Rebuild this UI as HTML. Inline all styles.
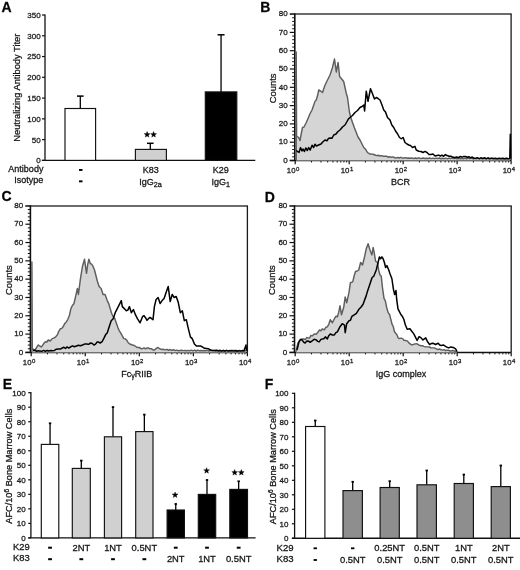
<!DOCTYPE html>
<html><head><meta charset="utf-8"><title>Figure</title>
<style>
html,body{margin:0;padding:0;background:#fff;}
body{width:520px;height:570px;overflow:hidden;}
svg{display:block;font-family:"Liberation Sans", sans-serif;filter:grayscale(1) blur(0.3px);}
text{stroke:#1a1a1a;stroke-width:0.28px;-webkit-font-smoothing:antialiased;}
</style></head>
<body>
<svg width="520" height="570" viewBox="0 0 520 570">
<rect x="0" y="0" width="520" height="570" fill="#fff"/>
<text x="1.50" y="12.30" font-size="14" text-anchor="start" font-weight="bold" fill="#000" >A</text>
<line x1="42.00" y1="160.40" x2="45.00" y2="160.40" stroke="#111" stroke-width="1.2"/>
<text x="40.60" y="163.30" font-size="8" text-anchor="end" font-weight="normal" fill="#222" >0</text>
<line x1="42.00" y1="139.63" x2="45.00" y2="139.63" stroke="#111" stroke-width="1.2"/>
<text x="40.60" y="142.53" font-size="8" text-anchor="end" font-weight="normal" fill="#222" >50</text>
<line x1="42.00" y1="118.86" x2="45.00" y2="118.86" stroke="#111" stroke-width="1.2"/>
<text x="40.60" y="121.76" font-size="8" text-anchor="end" font-weight="normal" fill="#222" >100</text>
<line x1="42.00" y1="98.09" x2="45.00" y2="98.09" stroke="#111" stroke-width="1.2"/>
<text x="40.60" y="100.99" font-size="8" text-anchor="end" font-weight="normal" fill="#222" >150</text>
<line x1="42.00" y1="77.31" x2="45.00" y2="77.31" stroke="#111" stroke-width="1.2"/>
<text x="40.60" y="80.21" font-size="8" text-anchor="end" font-weight="normal" fill="#222" >200</text>
<line x1="42.00" y1="56.54" x2="45.00" y2="56.54" stroke="#111" stroke-width="1.2"/>
<text x="40.60" y="59.44" font-size="8" text-anchor="end" font-weight="normal" fill="#222" >250</text>
<line x1="42.00" y1="35.77" x2="45.00" y2="35.77" stroke="#111" stroke-width="1.2"/>
<text x="40.60" y="38.67" font-size="8" text-anchor="end" font-weight="normal" fill="#222" >300</text>
<line x1="42.00" y1="15.00" x2="45.00" y2="15.00" stroke="#111" stroke-width="1.2"/>
<text x="40.60" y="17.90" font-size="8" text-anchor="end" font-weight="normal" fill="#222" >350</text>
<line x1="45.00" y1="14.60" x2="45.00" y2="160.40" stroke="#111" stroke-width="1.3"/>
<line x1="41.80" y1="160.40" x2="255.30" y2="160.40" stroke="#111" stroke-width="1.4"/>
<line x1="80.30" y1="96.10" x2="80.30" y2="108.50" stroke="#000" stroke-width="1.3"/>
<line x1="77.00" y1="96.10" x2="83.60" y2="96.10" stroke="#000" stroke-width="1.5"/>
<rect x="65.00" y="108.50" width="30.60" height="51.90" fill="#fff" stroke="#111" stroke-width="1.15"/>
<line x1="150.30" y1="143.30" x2="150.30" y2="149.40" stroke="#000" stroke-width="1.3"/>
<line x1="147.00" y1="143.30" x2="153.60" y2="143.30" stroke="#000" stroke-width="1.5"/>
<rect x="135.40" y="149.40" width="31.00" height="11.00" fill="#d0d0d0" stroke="#111" stroke-width="1.15"/>
<line x1="221.05" y1="34.80" x2="221.05" y2="91.90" stroke="#000" stroke-width="1.3"/>
<line x1="217.55" y1="34.80" x2="224.55" y2="34.80" stroke="#000" stroke-width="1.5"/>
<rect x="205.30" y="91.90" width="31.50" height="68.50" fill="#000" stroke="#111" stroke-width="1.15"/>
<path d="M147.10,131.50 L147.87,133.55 L150.05,133.64 L148.34,135.00 L148.92,137.11 L147.10,135.90 L145.28,137.11 L145.86,135.00 L144.15,133.64 L146.33,133.55 Z" fill="#000" stroke="#000" stroke-width="0.4" stroke-linejoin="round"/>
<path d="M153.60,131.50 L154.37,133.55 L156.55,133.64 L154.84,135.00 L155.42,137.11 L153.60,135.90 L151.78,137.11 L152.36,135.00 L150.65,133.64 L152.83,133.55 Z" fill="#000" stroke="#000" stroke-width="0.4" stroke-linejoin="round"/>
<text x="43.40" y="171.60" font-size="9" text-anchor="end" font-weight="normal" fill="#111" >Antibody</text>
<text x="43.40" y="183.40" font-size="9" text-anchor="end" font-weight="normal" fill="#111" >Isotype</text>
<rect x="79.00" y="169.00" width="3.50" height="1.90" fill="#000"/>
<rect x="79.00" y="180.40" width="3.50" height="1.90" fill="#000"/>
<text x="150.70" y="173.20" font-size="9" text-anchor="middle" font-weight="normal" fill="#111" >K83</text>
<text x="139.2" y="184.6" font-size="9" fill="#111">IgG<tspan font-size="7.2" dy="2.3">2a</tspan></text>
<text x="220.80" y="173.20" font-size="9" text-anchor="middle" font-weight="normal" fill="#111" >K29</text>
<text x="211.4" y="184.6" font-size="9" fill="#111">IgG<tspan font-size="7.2" dy="2.3">1</tspan></text>
<text transform="translate(20.0,87.7) rotate(-90)" font-size="9.3" text-anchor="middle" fill="#111">Neutralizing Antibody Titer</text>
<text x="260.30" y="12.20" font-size="14" text-anchor="start" font-weight="bold" fill="#000" >B</text>
<line x1="289.80" y1="160.50" x2="294.80" y2="160.50" stroke="#111" stroke-width="1.2"/>
<text x="287.60" y="162.70" font-size="8" text-anchor="end" font-weight="normal" fill="#222" >0</text>
<line x1="292.20" y1="156.84" x2="294.80" y2="156.84" stroke="#111" stroke-width="1.0"/>
<line x1="292.20" y1="153.18" x2="294.80" y2="153.18" stroke="#111" stroke-width="1.0"/>
<line x1="292.20" y1="149.52" x2="294.80" y2="149.52" stroke="#111" stroke-width="1.0"/>
<line x1="292.20" y1="145.86" x2="294.80" y2="145.86" stroke="#111" stroke-width="1.0"/>
<line x1="289.80" y1="142.20" x2="294.80" y2="142.20" stroke="#111" stroke-width="1.2"/>
<text x="287.60" y="144.40" font-size="8" text-anchor="end" font-weight="normal" fill="#222" >10</text>
<line x1="292.20" y1="138.54" x2="294.80" y2="138.54" stroke="#111" stroke-width="1.0"/>
<line x1="292.20" y1="134.88" x2="294.80" y2="134.88" stroke="#111" stroke-width="1.0"/>
<line x1="292.20" y1="131.22" x2="294.80" y2="131.22" stroke="#111" stroke-width="1.0"/>
<line x1="292.20" y1="127.56" x2="294.80" y2="127.56" stroke="#111" stroke-width="1.0"/>
<line x1="289.80" y1="123.90" x2="294.80" y2="123.90" stroke="#111" stroke-width="1.2"/>
<text x="287.60" y="126.10" font-size="8" text-anchor="end" font-weight="normal" fill="#222" >20</text>
<line x1="292.20" y1="120.24" x2="294.80" y2="120.24" stroke="#111" stroke-width="1.0"/>
<line x1="292.20" y1="116.58" x2="294.80" y2="116.58" stroke="#111" stroke-width="1.0"/>
<line x1="292.20" y1="112.92" x2="294.80" y2="112.92" stroke="#111" stroke-width="1.0"/>
<line x1="292.20" y1="109.26" x2="294.80" y2="109.26" stroke="#111" stroke-width="1.0"/>
<line x1="289.80" y1="105.60" x2="294.80" y2="105.60" stroke="#111" stroke-width="1.2"/>
<text x="287.60" y="107.80" font-size="8" text-anchor="end" font-weight="normal" fill="#222" >30</text>
<line x1="292.20" y1="101.94" x2="294.80" y2="101.94" stroke="#111" stroke-width="1.0"/>
<line x1="292.20" y1="98.28" x2="294.80" y2="98.28" stroke="#111" stroke-width="1.0"/>
<line x1="292.20" y1="94.62" x2="294.80" y2="94.62" stroke="#111" stroke-width="1.0"/>
<line x1="292.20" y1="90.96" x2="294.80" y2="90.96" stroke="#111" stroke-width="1.0"/>
<line x1="289.80" y1="87.30" x2="294.80" y2="87.30" stroke="#111" stroke-width="1.2"/>
<text x="287.60" y="89.50" font-size="8" text-anchor="end" font-weight="normal" fill="#222" >40</text>
<line x1="292.20" y1="83.64" x2="294.80" y2="83.64" stroke="#111" stroke-width="1.0"/>
<line x1="292.20" y1="79.98" x2="294.80" y2="79.98" stroke="#111" stroke-width="1.0"/>
<line x1="292.20" y1="76.32" x2="294.80" y2="76.32" stroke="#111" stroke-width="1.0"/>
<line x1="292.20" y1="72.66" x2="294.80" y2="72.66" stroke="#111" stroke-width="1.0"/>
<line x1="289.80" y1="69.00" x2="294.80" y2="69.00" stroke="#111" stroke-width="1.2"/>
<text x="287.60" y="71.20" font-size="8" text-anchor="end" font-weight="normal" fill="#222" >50</text>
<line x1="292.20" y1="65.34" x2="294.80" y2="65.34" stroke="#111" stroke-width="1.0"/>
<line x1="292.20" y1="61.68" x2="294.80" y2="61.68" stroke="#111" stroke-width="1.0"/>
<line x1="292.20" y1="58.02" x2="294.80" y2="58.02" stroke="#111" stroke-width="1.0"/>
<line x1="292.20" y1="54.36" x2="294.80" y2="54.36" stroke="#111" stroke-width="1.0"/>
<line x1="289.80" y1="50.70" x2="294.80" y2="50.70" stroke="#111" stroke-width="1.2"/>
<text x="287.60" y="52.90" font-size="8" text-anchor="end" font-weight="normal" fill="#222" >60</text>
<line x1="292.20" y1="47.04" x2="294.80" y2="47.04" stroke="#111" stroke-width="1.0"/>
<line x1="292.20" y1="43.38" x2="294.80" y2="43.38" stroke="#111" stroke-width="1.0"/>
<line x1="292.20" y1="39.72" x2="294.80" y2="39.72" stroke="#111" stroke-width="1.0"/>
<line x1="292.20" y1="36.06" x2="294.80" y2="36.06" stroke="#111" stroke-width="1.0"/>
<line x1="289.80" y1="32.40" x2="294.80" y2="32.40" stroke="#111" stroke-width="1.2"/>
<text x="287.60" y="34.60" font-size="8" text-anchor="end" font-weight="normal" fill="#222" >70</text>
<line x1="292.20" y1="28.74" x2="294.80" y2="28.74" stroke="#111" stroke-width="1.0"/>
<line x1="292.20" y1="25.08" x2="294.80" y2="25.08" stroke="#111" stroke-width="1.0"/>
<line x1="292.20" y1="21.42" x2="294.80" y2="21.42" stroke="#111" stroke-width="1.0"/>
<line x1="292.20" y1="17.76" x2="294.80" y2="17.76" stroke="#111" stroke-width="1.0"/>
<line x1="289.80" y1="14.10" x2="294.80" y2="14.10" stroke="#111" stroke-width="1.2"/>
<text x="287.60" y="16.30" font-size="8" text-anchor="end" font-weight="normal" fill="#222" >80</text>
<line x1="289.80" y1="14.10" x2="511.70" y2="14.10" stroke="#3a3a3a" stroke-width="1.5"/>
<line x1="511.10" y1="14.10" x2="511.10" y2="160.50" stroke="#1a1a1a" stroke-width="1.3"/>
<line x1="294.80" y1="13.60" x2="294.80" y2="160.50" stroke="#111" stroke-width="1.6"/>
<line x1="289.80" y1="160.50" x2="511.10" y2="160.50" stroke="#111" stroke-width="1.5"/>
<line x1="295.20" y1="160.50" x2="295.20" y2="164.30" stroke="#111" stroke-width="1.2"/>
<text x="295.50" y="173.40" font-size="7.8" text-anchor="end" fill="#222">10</text>
<text x="295.90" y="170.90" font-size="6" fill="#222">0</text>
<line x1="311.45" y1="160.50" x2="311.45" y2="162.50" stroke="#111" stroke-width="1.0"/>
<line x1="320.95" y1="160.50" x2="320.95" y2="162.50" stroke="#111" stroke-width="1.0"/>
<line x1="327.70" y1="160.50" x2="327.70" y2="162.50" stroke="#111" stroke-width="1.0"/>
<line x1="332.93" y1="160.50" x2="332.93" y2="162.50" stroke="#111" stroke-width="1.0"/>
<line x1="337.20" y1="160.50" x2="337.20" y2="162.50" stroke="#111" stroke-width="1.0"/>
<line x1="340.81" y1="160.50" x2="340.81" y2="162.50" stroke="#111" stroke-width="1.0"/>
<line x1="343.94" y1="160.50" x2="343.94" y2="162.50" stroke="#111" stroke-width="1.0"/>
<line x1="346.71" y1="160.50" x2="346.71" y2="162.50" stroke="#111" stroke-width="1.0"/>
<line x1="349.18" y1="160.50" x2="349.18" y2="164.30" stroke="#111" stroke-width="1.2"/>
<text x="349.48" y="173.40" font-size="7.8" text-anchor="end" fill="#222">10</text>
<text x="349.88" y="170.90" font-size="6" fill="#222">1</text>
<line x1="365.42" y1="160.50" x2="365.42" y2="162.50" stroke="#111" stroke-width="1.0"/>
<line x1="374.93" y1="160.50" x2="374.93" y2="162.50" stroke="#111" stroke-width="1.0"/>
<line x1="381.67" y1="160.50" x2="381.67" y2="162.50" stroke="#111" stroke-width="1.0"/>
<line x1="386.90" y1="160.50" x2="386.90" y2="162.50" stroke="#111" stroke-width="1.0"/>
<line x1="391.18" y1="160.50" x2="391.18" y2="162.50" stroke="#111" stroke-width="1.0"/>
<line x1="394.79" y1="160.50" x2="394.79" y2="162.50" stroke="#111" stroke-width="1.0"/>
<line x1="397.92" y1="160.50" x2="397.92" y2="162.50" stroke="#111" stroke-width="1.0"/>
<line x1="400.68" y1="160.50" x2="400.68" y2="162.50" stroke="#111" stroke-width="1.0"/>
<line x1="403.15" y1="160.50" x2="403.15" y2="164.30" stroke="#111" stroke-width="1.2"/>
<text x="403.45" y="173.40" font-size="7.8" text-anchor="end" fill="#222">10</text>
<text x="403.85" y="170.90" font-size="6" fill="#222">2</text>
<line x1="419.40" y1="160.50" x2="419.40" y2="162.50" stroke="#111" stroke-width="1.0"/>
<line x1="428.90" y1="160.50" x2="428.90" y2="162.50" stroke="#111" stroke-width="1.0"/>
<line x1="435.65" y1="160.50" x2="435.65" y2="162.50" stroke="#111" stroke-width="1.0"/>
<line x1="440.88" y1="160.50" x2="440.88" y2="162.50" stroke="#111" stroke-width="1.0"/>
<line x1="445.15" y1="160.50" x2="445.15" y2="162.50" stroke="#111" stroke-width="1.0"/>
<line x1="448.76" y1="160.50" x2="448.76" y2="162.50" stroke="#111" stroke-width="1.0"/>
<line x1="451.89" y1="160.50" x2="451.89" y2="162.50" stroke="#111" stroke-width="1.0"/>
<line x1="454.66" y1="160.50" x2="454.66" y2="162.50" stroke="#111" stroke-width="1.0"/>
<line x1="457.12" y1="160.50" x2="457.12" y2="164.30" stroke="#111" stroke-width="1.2"/>
<text x="457.43" y="173.40" font-size="7.8" text-anchor="end" fill="#222">10</text>
<text x="457.82" y="170.90" font-size="6" fill="#222">3</text>
<line x1="473.37" y1="160.50" x2="473.37" y2="162.50" stroke="#111" stroke-width="1.0"/>
<line x1="482.88" y1="160.50" x2="482.88" y2="162.50" stroke="#111" stroke-width="1.0"/>
<line x1="489.62" y1="160.50" x2="489.62" y2="162.50" stroke="#111" stroke-width="1.0"/>
<line x1="494.85" y1="160.50" x2="494.85" y2="162.50" stroke="#111" stroke-width="1.0"/>
<line x1="499.13" y1="160.50" x2="499.13" y2="162.50" stroke="#111" stroke-width="1.0"/>
<line x1="502.74" y1="160.50" x2="502.74" y2="162.50" stroke="#111" stroke-width="1.0"/>
<line x1="505.87" y1="160.50" x2="505.87" y2="162.50" stroke="#111" stroke-width="1.0"/>
<line x1="508.63" y1="160.50" x2="508.63" y2="162.50" stroke="#111" stroke-width="1.0"/>
<line x1="511.10" y1="160.50" x2="511.10" y2="164.30" stroke="#111" stroke-width="1.2"/>
<text x="511.40" y="173.40" font-size="7.8" text-anchor="end" fill="#222">10</text>
<text x="511.80" y="170.90" font-size="6" fill="#222">4</text>
<text transform="translate(275.60,88.30) rotate(-90)" font-size="9.4" text-anchor="middle" fill="#111">Counts</text>
<text x="400.60" y="184.80" font-size="9" text-anchor="middle" fill="#111">BCR</text>
<path d="M296.20,160.50 L296.20,160.00 L296.20,52.00 L296.20,52.00 L296.60,136.00 L298.60,137.50 L300.00,140.50 L301.00,135.00 L302.50,127.50 L304.00,127.00 L306.25,122.50 L308.00,118.50 L310.00,113.75 L312.00,110.00 L313.75,105.00 L315.00,101.38 L316.25,100.00 L317.50,95.83 L318.75,90.00 L320.50,91.00 L322.50,92.50 L324.50,86.50 L326.25,82.50 L328.00,79.00 L330.00,75.00 L331.50,70.50 L332.50,67.50 L334.50,59.00 L336.30,72.00 L338.10,62.50 L339.60,76.50 L340.50,77.50 L342.50,80.00 L343.75,81.73 L345.00,87.50 L346.25,93.18 L347.50,97.50 L349.50,112.50 L351.00,118.00 L352.50,122.50 L354.50,128.00 L356.25,132.50 L358.00,137.00 L360.00,140.00 L362.00,144.00 L363.75,147.50 L365.62,149.35 L367.50,152.50 L369.25,153.67 L371.00,154.00 L373.00,154.31 L375.00,155.00 L376.67,155.65 L378.33,155.25 L380.00,156.01 L381.67,155.66 L383.33,156.23 L385.00,156.25 L386.55,156.11 L388.10,157.21 L389.65,156.69 L391.20,157.31 L392.75,156.89 L394.30,157.50 L395.93,158.11 L397.57,157.31 L399.20,158.02 L400.83,157.32 L402.47,158.04 L404.10,158.00 L405.69,157.58 L407.28,158.28 L408.87,157.93 L410.46,158.27 L412.05,157.93 L413.64,158.60 L415.23,158.04 L416.82,158.56 L418.41,157.93 L420.00,158.30 L421.61,158.54 L423.21,158.01 L424.82,158.43 L426.43,158.20 L428.04,158.50 L429.64,157.98 L431.25,158.59 L432.86,158.13 L434.46,158.66 L436.07,158.09 L437.68,158.56 L439.29,157.97 L440.89,158.72 L442.50,158.19 L444.11,158.69 L445.71,158.10 L447.32,158.81 L448.93,158.03 L450.54,158.60 L452.14,157.95 L453.75,158.55 L455.36,158.17 L456.96,158.79 L458.57,158.28 L460.18,158.71 L461.79,158.33 L463.39,158.78 L465.00,158.08 L466.61,158.76 L468.21,158.05 L469.82,158.67 L471.43,158.13 L473.04,158.78 L474.64,158.18 L476.25,158.74 L477.86,158.10 L479.46,158.93 L481.07,158.24 L482.68,158.84 L484.29,158.40 L485.89,158.86 L487.50,158.20 L489.11,158.98 L490.71,158.15 L492.32,158.73 L493.93,158.32 L495.54,158.88 L497.14,158.46 L498.75,158.82 L500.36,158.42 L501.96,158.70 L503.57,158.47 L505.18,158.94 L506.79,158.46 L508.39,158.77 L510.00,158.60 L510.00,160.50 Z" fill="#d5d5d5" stroke="none" stroke-width="0" stroke-linejoin="round"/>
<path d="M296.20,160.00 L296.20,52.00 L296.20,52.00 L296.60,136.00 L298.60,137.50 L300.00,140.50 L301.00,135.00 L302.50,127.50 L304.00,127.00 L306.25,122.50 L308.00,118.50 L310.00,113.75 L312.00,110.00 L313.75,105.00 L315.00,101.38 L316.25,100.00 L317.50,95.83 L318.75,90.00 L320.50,91.00 L322.50,92.50 L324.50,86.50 L326.25,82.50 L328.00,79.00 L330.00,75.00 L331.50,70.50 L332.50,67.50 L334.50,59.00 L336.30,72.00 L338.10,62.50 L339.60,76.50 L340.50,77.50 L342.50,80.00 L343.75,81.73 L345.00,87.50 L346.25,93.18 L347.50,97.50 L349.50,112.50 L351.00,118.00 L352.50,122.50 L354.50,128.00 L356.25,132.50 L358.00,137.00 L360.00,140.00 L362.00,144.00 L363.75,147.50 L365.62,149.35 L367.50,152.50 L369.25,153.67 L371.00,154.00 L373.00,154.31 L375.00,155.00 L376.67,155.65 L378.33,155.25 L380.00,156.01 L381.67,155.66 L383.33,156.23 L385.00,156.25 L386.55,156.11 L388.10,157.21 L389.65,156.69 L391.20,157.31 L392.75,156.89 L394.30,157.50 L395.93,158.11 L397.57,157.31 L399.20,158.02 L400.83,157.32 L402.47,158.04 L404.10,158.00 L405.69,157.58 L407.28,158.28 L408.87,157.93 L410.46,158.27 L412.05,157.93 L413.64,158.60 L415.23,158.04 L416.82,158.56 L418.41,157.93 L420.00,158.30 L421.61,158.54 L423.21,158.01 L424.82,158.43 L426.43,158.20 L428.04,158.50 L429.64,157.98 L431.25,158.59 L432.86,158.13 L434.46,158.66 L436.07,158.09 L437.68,158.56 L439.29,157.97 L440.89,158.72 L442.50,158.19 L444.11,158.69 L445.71,158.10 L447.32,158.81 L448.93,158.03 L450.54,158.60 L452.14,157.95 L453.75,158.55 L455.36,158.17 L456.96,158.79 L458.57,158.28 L460.18,158.71 L461.79,158.33 L463.39,158.78 L465.00,158.08 L466.61,158.76 L468.21,158.05 L469.82,158.67 L471.43,158.13 L473.04,158.78 L474.64,158.18 L476.25,158.74 L477.86,158.10 L479.46,158.93 L481.07,158.24 L482.68,158.84 L484.29,158.40 L485.89,158.86 L487.50,158.20 L489.11,158.98 L490.71,158.15 L492.32,158.73 L493.93,158.32 L495.54,158.88 L497.14,158.46 L498.75,158.82 L500.36,158.42 L501.96,158.70 L503.57,158.47 L505.18,158.94 L506.79,158.46 L508.39,158.77 L510.00,158.60" fill="none" stroke="#5e5e5e" stroke-width="1.45" stroke-linejoin="round"/>
<path d="M296.20,150.50 L297.60,151.50 L299.10,152.40 L300.50,147.60 L302.00,151.00 L303.00,149.00 L304.40,151.50 L305.80,148.00 L307.30,150.50 L308.70,147.60 L310.20,150.00 L312.10,145.20 L313.60,147.50 L315.00,144.20 L316.40,146.00 L318.60,145.00 L321.00,144.00 L323.00,141.80 L325.00,140.00 L327.00,140.80 L328.50,138.46 L330.00,138.00 L331.88,138.26 L333.75,135.00 L336.00,134.00 L338.00,131.50 L340.00,130.00 L342.50,127.00 L345.00,125.00 L347.00,121.50 L348.50,118.82 L350.00,117.50 L352.50,115.50 L355.00,112.50 L357.50,110.50 L360.00,107.50 L362.00,106.50 L363.75,105.00 L364.60,111.00 L366.25,91.25 L368.00,101.25 L370.50,88.75 L372.50,93.75 L374.50,99.00 L376.25,97.50 L378.00,98.50 L380.00,100.00 L382.00,105.00 L383.75,110.00 L385.50,112.00 L387.50,117.50 L390.00,120.00 L391.80,125.00 L393.75,127.50 L395.50,131.00 L397.50,133.75 L399.50,137.50 L401.25,138.75 L403.10,137.50 L405.00,142.50 L407.00,144.00 L408.75,145.00 L410.50,145.50 L412.50,147.50 L414.90,146.30 L416.25,150.00 L418.75,151.25 L421.00,151.50 L423.00,152.49 L425.00,151.43 L427.00,152.50 L429.00,154.46 L431.00,154.50 L433.00,154.02 L435.00,155.99 L437.00,155.50 L438.67,155.12 L440.33,155.98 L442.00,155.06 L443.67,156.31 L445.33,154.64 L447.00,155.50 L449.00,156.27 L451.00,156.23 L453.00,157.29 L455.00,157.50 L456.75,157.06 L458.50,157.60 L460.25,156.50 L462.00,157.15 L463.75,156.51 L465.50,156.50 L467.18,157.20 L468.87,156.70 L470.55,157.81 L472.23,156.98 L473.92,158.40 L475.60,158.20 L477.40,157.85 L479.20,158.66 L481.00,157.82 L482.80,158.43 L484.60,157.76 L486.40,158.81 L488.20,157.82 L490.00,158.86 L491.80,158.09 L493.60,158.71 L495.40,158.27 L497.20,158.86 L499.00,158.33 L500.80,158.64 L502.60,158.31 L504.40,158.72 L506.20,158.29 L508.00,158.71 L509.80,158.60 L510.30,134.30 L510.60,158.60" fill="none" stroke="#000" stroke-width="1.5" stroke-linejoin="round"/>
<text x="1.60" y="200.80" font-size="14" text-anchor="start" font-weight="bold" fill="#000" >C</text>
<line x1="25.40" y1="352.40" x2="30.40" y2="352.40" stroke="#111" stroke-width="1.2"/>
<text x="23.20" y="354.60" font-size="8" text-anchor="end" font-weight="normal" fill="#222" >0</text>
<line x1="27.80" y1="348.74" x2="30.40" y2="348.74" stroke="#111" stroke-width="1.0"/>
<line x1="27.80" y1="345.07" x2="30.40" y2="345.07" stroke="#111" stroke-width="1.0"/>
<line x1="27.80" y1="341.41" x2="30.40" y2="341.41" stroke="#111" stroke-width="1.0"/>
<line x1="27.80" y1="337.75" x2="30.40" y2="337.75" stroke="#111" stroke-width="1.0"/>
<line x1="25.40" y1="334.09" x2="30.40" y2="334.09" stroke="#111" stroke-width="1.2"/>
<text x="23.20" y="336.29" font-size="8" text-anchor="end" font-weight="normal" fill="#222" >10</text>
<line x1="27.80" y1="330.42" x2="30.40" y2="330.42" stroke="#111" stroke-width="1.0"/>
<line x1="27.80" y1="326.76" x2="30.40" y2="326.76" stroke="#111" stroke-width="1.0"/>
<line x1="27.80" y1="323.10" x2="30.40" y2="323.10" stroke="#111" stroke-width="1.0"/>
<line x1="27.80" y1="319.44" x2="30.40" y2="319.44" stroke="#111" stroke-width="1.0"/>
<line x1="25.40" y1="315.77" x2="30.40" y2="315.77" stroke="#111" stroke-width="1.2"/>
<text x="23.20" y="317.97" font-size="8" text-anchor="end" font-weight="normal" fill="#222" >20</text>
<line x1="27.80" y1="312.11" x2="30.40" y2="312.11" stroke="#111" stroke-width="1.0"/>
<line x1="27.80" y1="308.45" x2="30.40" y2="308.45" stroke="#111" stroke-width="1.0"/>
<line x1="27.80" y1="304.79" x2="30.40" y2="304.79" stroke="#111" stroke-width="1.0"/>
<line x1="27.80" y1="301.12" x2="30.40" y2="301.12" stroke="#111" stroke-width="1.0"/>
<line x1="25.40" y1="297.46" x2="30.40" y2="297.46" stroke="#111" stroke-width="1.2"/>
<text x="23.20" y="299.66" font-size="8" text-anchor="end" font-weight="normal" fill="#222" >30</text>
<line x1="27.80" y1="293.80" x2="30.40" y2="293.80" stroke="#111" stroke-width="1.0"/>
<line x1="27.80" y1="290.14" x2="30.40" y2="290.14" stroke="#111" stroke-width="1.0"/>
<line x1="27.80" y1="286.48" x2="30.40" y2="286.48" stroke="#111" stroke-width="1.0"/>
<line x1="27.80" y1="282.81" x2="30.40" y2="282.81" stroke="#111" stroke-width="1.0"/>
<line x1="25.40" y1="279.15" x2="30.40" y2="279.15" stroke="#111" stroke-width="1.2"/>
<text x="23.20" y="281.35" font-size="8" text-anchor="end" font-weight="normal" fill="#222" >40</text>
<line x1="27.80" y1="275.49" x2="30.40" y2="275.49" stroke="#111" stroke-width="1.0"/>
<line x1="27.80" y1="271.82" x2="30.40" y2="271.82" stroke="#111" stroke-width="1.0"/>
<line x1="27.80" y1="268.16" x2="30.40" y2="268.16" stroke="#111" stroke-width="1.0"/>
<line x1="27.80" y1="264.50" x2="30.40" y2="264.50" stroke="#111" stroke-width="1.0"/>
<line x1="25.40" y1="260.84" x2="30.40" y2="260.84" stroke="#111" stroke-width="1.2"/>
<text x="23.20" y="263.04" font-size="8" text-anchor="end" font-weight="normal" fill="#222" >50</text>
<line x1="27.80" y1="257.18" x2="30.40" y2="257.18" stroke="#111" stroke-width="1.0"/>
<line x1="27.80" y1="253.51" x2="30.40" y2="253.51" stroke="#111" stroke-width="1.0"/>
<line x1="27.80" y1="249.85" x2="30.40" y2="249.85" stroke="#111" stroke-width="1.0"/>
<line x1="27.80" y1="246.19" x2="30.40" y2="246.19" stroke="#111" stroke-width="1.0"/>
<line x1="25.40" y1="242.53" x2="30.40" y2="242.53" stroke="#111" stroke-width="1.2"/>
<text x="23.20" y="244.72" font-size="8" text-anchor="end" font-weight="normal" fill="#222" >60</text>
<line x1="27.80" y1="238.86" x2="30.40" y2="238.86" stroke="#111" stroke-width="1.0"/>
<line x1="27.80" y1="235.20" x2="30.40" y2="235.20" stroke="#111" stroke-width="1.0"/>
<line x1="27.80" y1="231.54" x2="30.40" y2="231.54" stroke="#111" stroke-width="1.0"/>
<line x1="27.80" y1="227.88" x2="30.40" y2="227.88" stroke="#111" stroke-width="1.0"/>
<line x1="25.40" y1="224.21" x2="30.40" y2="224.21" stroke="#111" stroke-width="1.2"/>
<text x="23.20" y="226.41" font-size="8" text-anchor="end" font-weight="normal" fill="#222" >70</text>
<line x1="27.80" y1="220.55" x2="30.40" y2="220.55" stroke="#111" stroke-width="1.0"/>
<line x1="27.80" y1="216.89" x2="30.40" y2="216.89" stroke="#111" stroke-width="1.0"/>
<line x1="27.80" y1="213.22" x2="30.40" y2="213.22" stroke="#111" stroke-width="1.0"/>
<line x1="27.80" y1="209.56" x2="30.40" y2="209.56" stroke="#111" stroke-width="1.0"/>
<line x1="25.40" y1="205.90" x2="30.40" y2="205.90" stroke="#111" stroke-width="1.2"/>
<text x="23.20" y="208.10" font-size="8" text-anchor="end" font-weight="normal" fill="#222" >80</text>
<line x1="25.40" y1="205.90" x2="248.00" y2="205.90" stroke="#3a3a3a" stroke-width="1.5"/>
<line x1="247.40" y1="205.90" x2="247.40" y2="352.40" stroke="#1a1a1a" stroke-width="1.3"/>
<line x1="30.40" y1="205.40" x2="30.40" y2="352.40" stroke="#111" stroke-width="1.6"/>
<line x1="25.40" y1="352.40" x2="247.40" y2="352.40" stroke="#111" stroke-width="1.5"/>
<line x1="31.20" y1="352.40" x2="31.20" y2="356.20" stroke="#111" stroke-width="1.2"/>
<text x="31.50" y="365.30" font-size="7.8" text-anchor="end" fill="#222">10</text>
<text x="31.90" y="362.80" font-size="6" fill="#222">0</text>
<line x1="47.47" y1="352.40" x2="47.47" y2="354.40" stroke="#111" stroke-width="1.0"/>
<line x1="56.99" y1="352.40" x2="56.99" y2="354.40" stroke="#111" stroke-width="1.0"/>
<line x1="63.74" y1="352.40" x2="63.74" y2="354.40" stroke="#111" stroke-width="1.0"/>
<line x1="68.98" y1="352.40" x2="68.98" y2="354.40" stroke="#111" stroke-width="1.0"/>
<line x1="73.26" y1="352.40" x2="73.26" y2="354.40" stroke="#111" stroke-width="1.0"/>
<line x1="76.88" y1="352.40" x2="76.88" y2="354.40" stroke="#111" stroke-width="1.0"/>
<line x1="80.01" y1="352.40" x2="80.01" y2="354.40" stroke="#111" stroke-width="1.0"/>
<line x1="82.78" y1="352.40" x2="82.78" y2="354.40" stroke="#111" stroke-width="1.0"/>
<line x1="85.25" y1="352.40" x2="85.25" y2="356.20" stroke="#111" stroke-width="1.2"/>
<text x="85.55" y="365.30" font-size="7.8" text-anchor="end" fill="#222">10</text>
<text x="85.95" y="362.80" font-size="6" fill="#222">1</text>
<line x1="101.52" y1="352.40" x2="101.52" y2="354.40" stroke="#111" stroke-width="1.0"/>
<line x1="111.04" y1="352.40" x2="111.04" y2="354.40" stroke="#111" stroke-width="1.0"/>
<line x1="117.79" y1="352.40" x2="117.79" y2="354.40" stroke="#111" stroke-width="1.0"/>
<line x1="123.03" y1="352.40" x2="123.03" y2="354.40" stroke="#111" stroke-width="1.0"/>
<line x1="127.31" y1="352.40" x2="127.31" y2="354.40" stroke="#111" stroke-width="1.0"/>
<line x1="130.93" y1="352.40" x2="130.93" y2="354.40" stroke="#111" stroke-width="1.0"/>
<line x1="134.06" y1="352.40" x2="134.06" y2="354.40" stroke="#111" stroke-width="1.0"/>
<line x1="136.83" y1="352.40" x2="136.83" y2="354.40" stroke="#111" stroke-width="1.0"/>
<line x1="139.30" y1="352.40" x2="139.30" y2="356.20" stroke="#111" stroke-width="1.2"/>
<text x="139.60" y="365.30" font-size="7.8" text-anchor="end" fill="#222">10</text>
<text x="140.00" y="362.80" font-size="6" fill="#222">2</text>
<line x1="155.57" y1="352.40" x2="155.57" y2="354.40" stroke="#111" stroke-width="1.0"/>
<line x1="165.09" y1="352.40" x2="165.09" y2="354.40" stroke="#111" stroke-width="1.0"/>
<line x1="171.84" y1="352.40" x2="171.84" y2="354.40" stroke="#111" stroke-width="1.0"/>
<line x1="177.08" y1="352.40" x2="177.08" y2="354.40" stroke="#111" stroke-width="1.0"/>
<line x1="181.36" y1="352.40" x2="181.36" y2="354.40" stroke="#111" stroke-width="1.0"/>
<line x1="184.98" y1="352.40" x2="184.98" y2="354.40" stroke="#111" stroke-width="1.0"/>
<line x1="188.11" y1="352.40" x2="188.11" y2="354.40" stroke="#111" stroke-width="1.0"/>
<line x1="190.88" y1="352.40" x2="190.88" y2="354.40" stroke="#111" stroke-width="1.0"/>
<line x1="193.35" y1="352.40" x2="193.35" y2="356.20" stroke="#111" stroke-width="1.2"/>
<text x="193.65" y="365.30" font-size="7.8" text-anchor="end" fill="#222">10</text>
<text x="194.05" y="362.80" font-size="6" fill="#222">3</text>
<line x1="209.62" y1="352.40" x2="209.62" y2="354.40" stroke="#111" stroke-width="1.0"/>
<line x1="219.14" y1="352.40" x2="219.14" y2="354.40" stroke="#111" stroke-width="1.0"/>
<line x1="225.89" y1="352.40" x2="225.89" y2="354.40" stroke="#111" stroke-width="1.0"/>
<line x1="231.13" y1="352.40" x2="231.13" y2="354.40" stroke="#111" stroke-width="1.0"/>
<line x1="235.41" y1="352.40" x2="235.41" y2="354.40" stroke="#111" stroke-width="1.0"/>
<line x1="239.03" y1="352.40" x2="239.03" y2="354.40" stroke="#111" stroke-width="1.0"/>
<line x1="242.16" y1="352.40" x2="242.16" y2="354.40" stroke="#111" stroke-width="1.0"/>
<line x1="244.93" y1="352.40" x2="244.93" y2="354.40" stroke="#111" stroke-width="1.0"/>
<line x1="247.40" y1="352.40" x2="247.40" y2="356.20" stroke="#111" stroke-width="1.2"/>
<text x="247.70" y="365.30" font-size="7.8" text-anchor="end" fill="#222">10</text>
<text x="248.10" y="362.80" font-size="6" fill="#222">4</text>
<text transform="translate(11.60,280.15) rotate(-90)" font-size="9.4" text-anchor="middle" fill="#111">Counts</text>
<text x="136.80" y="376.70" font-size="9" text-anchor="middle" fill="#111">Fc<tspan font-size="7" dy="1">γ</tspan><tspan dy="-1">RIIB</tspan></text>
<path d="M31.90,352.40 L31.90,352.00 L31.90,262.00 L31.90,262.00 L32.30,349.00 L33.65,349.39 L35.00,350.00 L36.55,347.73 L38.10,345.00 L39.60,345.77 L41.10,347.00 L42.60,345.43 L44.10,343.00 L45.47,341.77 L46.83,341.97 L48.20,340.00 L50.20,341.00 L52.20,338.65 L54.20,337.90 L55.75,336.81 L57.30,334.90 L58.80,331.27 L60.30,328.80 L61.80,328.41 L63.30,326.50 L64.80,323.42 L66.30,322.00 L67.85,319.30 L69.40,315.50 L70.90,308.68 L72.40,305.50 L73.90,303.77 L75.40,297.50 L77.40,288.40 L78.40,294.50 L80.50,278.40 L82.50,266.20 L84.50,259.20 L86.50,273.30 L87.70,264.55 L88.90,259.20 L90.25,263.49 L91.60,264.20 L93.10,266.46 L94.60,270.30 L96.10,276.30 L97.60,282.11 L99.10,286.40 L101.10,288.40 L103.10,294.50 L105.10,294.50 L107.20,300.60 L108.70,303.55 L110.20,308.60 L111.70,313.48 L113.20,316.70 L114.70,318.17 L116.20,322.80 L117.75,327.33 L119.30,330.80 L120.80,333.04 L122.30,335.90 L123.80,338.59 L125.30,338.90 L126.85,340.28 L128.40,343.00 L130.40,344.29 L132.40,345.00 L134.40,345.49 L136.40,347.00 L137.93,347.56 L139.45,347.37 L140.97,348.84 L142.50,348.60 L144.00,347.88 L145.50,348.79 L147.00,347.88 L148.50,348.00 L150.03,348.81 L151.55,348.80 L153.07,349.95 L154.60,350.00 L156.30,348.37 L158.00,347.50 L160.00,349.02 L162.00,349.50 L163.64,349.34 L165.27,349.88 L166.91,349.33 L168.55,350.37 L170.18,349.51 L171.82,350.46 L173.45,349.72 L175.09,350.60 L176.73,350.14 L178.36,350.69 L180.00,350.50 L181.61,350.29 L183.22,350.61 L184.83,350.42 L186.44,350.71 L188.05,350.36 L189.66,350.87 L191.27,350.13 L192.88,350.80 L194.49,350.15 L196.10,351.00 L197.71,350.16 L199.32,350.80 L200.93,350.43 L202.54,350.77 L204.15,350.46 L205.76,350.77 L207.37,350.33 L208.98,351.02 L210.59,350.27 L212.20,350.89 L213.80,350.35 L215.41,351.02 L217.02,350.56 L218.63,350.98 L220.24,350.29 L221.85,351.04 L223.46,350.36 L225.07,350.95 L226.68,350.57 L228.29,351.06 L229.90,350.53 L231.51,351.08 L233.12,350.34 L234.73,350.96 L236.34,350.54 L237.95,351.16 L239.56,350.45 L241.17,350.91 L242.78,350.66 L244.39,350.92 L246.00,350.80 L246.00,352.40 Z" fill="#d5d5d5" stroke="none" stroke-width="0" stroke-linejoin="round"/>
<path d="M31.90,352.00 L31.90,262.00 L31.90,262.00 L32.30,349.00 L33.65,349.39 L35.00,350.00 L36.55,347.73 L38.10,345.00 L39.60,345.77 L41.10,347.00 L42.60,345.43 L44.10,343.00 L45.47,341.77 L46.83,341.97 L48.20,340.00 L50.20,341.00 L52.20,338.65 L54.20,337.90 L55.75,336.81 L57.30,334.90 L58.80,331.27 L60.30,328.80 L61.80,328.41 L63.30,326.50 L64.80,323.42 L66.30,322.00 L67.85,319.30 L69.40,315.50 L70.90,308.68 L72.40,305.50 L73.90,303.77 L75.40,297.50 L77.40,288.40 L78.40,294.50 L80.50,278.40 L82.50,266.20 L84.50,259.20 L86.50,273.30 L87.70,264.55 L88.90,259.20 L90.25,263.49 L91.60,264.20 L93.10,266.46 L94.60,270.30 L96.10,276.30 L97.60,282.11 L99.10,286.40 L101.10,288.40 L103.10,294.50 L105.10,294.50 L107.20,300.60 L108.70,303.55 L110.20,308.60 L111.70,313.48 L113.20,316.70 L114.70,318.17 L116.20,322.80 L117.75,327.33 L119.30,330.80 L120.80,333.04 L122.30,335.90 L123.80,338.59 L125.30,338.90 L126.85,340.28 L128.40,343.00 L130.40,344.29 L132.40,345.00 L134.40,345.49 L136.40,347.00 L137.93,347.56 L139.45,347.37 L140.97,348.84 L142.50,348.60 L144.00,347.88 L145.50,348.79 L147.00,347.88 L148.50,348.00 L150.03,348.81 L151.55,348.80 L153.07,349.95 L154.60,350.00 L156.30,348.37 L158.00,347.50 L160.00,349.02 L162.00,349.50 L163.64,349.34 L165.27,349.88 L166.91,349.33 L168.55,350.37 L170.18,349.51 L171.82,350.46 L173.45,349.72 L175.09,350.60 L176.73,350.14 L178.36,350.69 L180.00,350.50 L181.61,350.29 L183.22,350.61 L184.83,350.42 L186.44,350.71 L188.05,350.36 L189.66,350.87 L191.27,350.13 L192.88,350.80 L194.49,350.15 L196.10,351.00 L197.71,350.16 L199.32,350.80 L200.93,350.43 L202.54,350.77 L204.15,350.46 L205.76,350.77 L207.37,350.33 L208.98,351.02 L210.59,350.27 L212.20,350.89 L213.80,350.35 L215.41,351.02 L217.02,350.56 L218.63,350.98 L220.24,350.29 L221.85,351.04 L223.46,350.36 L225.07,350.95 L226.68,350.57 L228.29,351.06 L229.90,350.53 L231.51,351.08 L233.12,350.34 L234.73,350.96 L236.34,350.54 L237.95,351.16 L239.56,350.45 L241.17,350.91 L242.78,350.66 L244.39,350.92 L246.00,350.80" fill="none" stroke="#5e5e5e" stroke-width="1.45" stroke-linejoin="round"/>
<path d="M33.00,350.60 L34.75,350.22 L36.50,351.23 L38.25,350.74 L40.00,351.00 L41.77,351.36 L43.55,350.42 L45.33,351.21 L47.10,350.56 L48.88,351.08 L50.65,350.54 L52.43,350.76 L54.20,350.60 L56.25,349.17 L58.30,349.00 L60.30,349.07 L62.30,348.00 L63.92,347.27 L65.54,348.43 L67.16,346.91 L68.78,348.02 L70.40,347.00 L72.40,345.84 L74.40,346.70 L76.40,346.00 L78.43,345.25 L80.47,345.80 L82.50,345.00 L84.50,344.06 L86.50,344.00 L88.55,344.30 L90.60,343.00 L92.30,343.53 L94.00,345.00 L95.55,344.14 L97.10,342.00 L98.60,342.12 L100.10,343.00 L102.10,341.73 L104.10,337.90 L105.65,334.60 L107.20,332.90 L109.20,326.80 L111.20,320.70 L113.20,318.70 L115.20,312.70 L117.30,308.60 L119.30,304.60 L121.30,300.60 L122.30,306.60 L124.30,308.60 L126.30,310.70 L127.85,310.15 L129.40,306.60 L131.40,312.70 L133.40,309.60 L135.40,314.70 L137.40,318.70 L140.10,322.80 L142.50,316.70 L144.00,315.62 L145.50,317.70 L147.00,320.36 L148.50,318.70 L150.05,317.45 L151.60,318.70 L153.00,319.70 L154.40,306.60 L156.10,299.50 L158.10,297.50 L160.10,303.60 L162.10,300.60 L164.10,298.50 L166.10,292.50 L168.20,286.40 L170.20,301.60 L172.20,294.50 L174.20,297.50 L176.20,296.50 L178.30,302.60 L180.30,312.70 L182.30,310.70 L184.30,320.70 L186.30,319.70 L188.40,328.80 L190.40,336.90 L192.40,338.90 L194.40,344.00 L196.40,346.02 L198.40,346.00 L200.45,345.92 L202.50,347.00 L204.50,348.34 L206.50,348.60 L208.55,348.86 L210.60,350.00 L212.60,350.42 L214.60,350.60 L216.31,350.33 L218.02,350.83 L219.73,350.56 L221.44,351.13 L223.16,350.54 L224.87,351.03 L226.58,350.36 L228.29,351.11 L230.00,350.80 L231.75,350.57 L233.50,351.11 L235.25,350.47 L237.00,351.22 L238.75,350.66 L240.50,351.13 L242.25,350.60 L244.00,350.80 L246.00,345.00 L246.60,350.80" fill="none" stroke="#000" stroke-width="1.5" stroke-linejoin="round"/>
<text x="264.80" y="201.80" font-size="14" text-anchor="start" font-weight="bold" fill="#000" >D</text>
<line x1="289.50" y1="352.40" x2="294.50" y2="352.40" stroke="#111" stroke-width="1.2"/>
<text x="287.30" y="354.60" font-size="8" text-anchor="end" font-weight="normal" fill="#222" >0</text>
<line x1="291.90" y1="348.74" x2="294.50" y2="348.74" stroke="#111" stroke-width="1.0"/>
<line x1="291.90" y1="345.07" x2="294.50" y2="345.07" stroke="#111" stroke-width="1.0"/>
<line x1="291.90" y1="341.41" x2="294.50" y2="341.41" stroke="#111" stroke-width="1.0"/>
<line x1="291.90" y1="337.75" x2="294.50" y2="337.75" stroke="#111" stroke-width="1.0"/>
<line x1="289.50" y1="334.09" x2="294.50" y2="334.09" stroke="#111" stroke-width="1.2"/>
<text x="287.30" y="336.29" font-size="8" text-anchor="end" font-weight="normal" fill="#222" >10</text>
<line x1="291.90" y1="330.42" x2="294.50" y2="330.42" stroke="#111" stroke-width="1.0"/>
<line x1="291.90" y1="326.76" x2="294.50" y2="326.76" stroke="#111" stroke-width="1.0"/>
<line x1="291.90" y1="323.10" x2="294.50" y2="323.10" stroke="#111" stroke-width="1.0"/>
<line x1="291.90" y1="319.44" x2="294.50" y2="319.44" stroke="#111" stroke-width="1.0"/>
<line x1="289.50" y1="315.77" x2="294.50" y2="315.77" stroke="#111" stroke-width="1.2"/>
<text x="287.30" y="317.97" font-size="8" text-anchor="end" font-weight="normal" fill="#222" >20</text>
<line x1="291.90" y1="312.11" x2="294.50" y2="312.11" stroke="#111" stroke-width="1.0"/>
<line x1="291.90" y1="308.45" x2="294.50" y2="308.45" stroke="#111" stroke-width="1.0"/>
<line x1="291.90" y1="304.79" x2="294.50" y2="304.79" stroke="#111" stroke-width="1.0"/>
<line x1="291.90" y1="301.12" x2="294.50" y2="301.12" stroke="#111" stroke-width="1.0"/>
<line x1="289.50" y1="297.46" x2="294.50" y2="297.46" stroke="#111" stroke-width="1.2"/>
<text x="287.30" y="299.66" font-size="8" text-anchor="end" font-weight="normal" fill="#222" >30</text>
<line x1="291.90" y1="293.80" x2="294.50" y2="293.80" stroke="#111" stroke-width="1.0"/>
<line x1="291.90" y1="290.14" x2="294.50" y2="290.14" stroke="#111" stroke-width="1.0"/>
<line x1="291.90" y1="286.48" x2="294.50" y2="286.48" stroke="#111" stroke-width="1.0"/>
<line x1="291.90" y1="282.81" x2="294.50" y2="282.81" stroke="#111" stroke-width="1.0"/>
<line x1="289.50" y1="279.15" x2="294.50" y2="279.15" stroke="#111" stroke-width="1.2"/>
<text x="287.30" y="281.35" font-size="8" text-anchor="end" font-weight="normal" fill="#222" >40</text>
<line x1="291.90" y1="275.49" x2="294.50" y2="275.49" stroke="#111" stroke-width="1.0"/>
<line x1="291.90" y1="271.82" x2="294.50" y2="271.82" stroke="#111" stroke-width="1.0"/>
<line x1="291.90" y1="268.16" x2="294.50" y2="268.16" stroke="#111" stroke-width="1.0"/>
<line x1="291.90" y1="264.50" x2="294.50" y2="264.50" stroke="#111" stroke-width="1.0"/>
<line x1="289.50" y1="260.84" x2="294.50" y2="260.84" stroke="#111" stroke-width="1.2"/>
<text x="287.30" y="263.04" font-size="8" text-anchor="end" font-weight="normal" fill="#222" >50</text>
<line x1="291.90" y1="257.18" x2="294.50" y2="257.18" stroke="#111" stroke-width="1.0"/>
<line x1="291.90" y1="253.51" x2="294.50" y2="253.51" stroke="#111" stroke-width="1.0"/>
<line x1="291.90" y1="249.85" x2="294.50" y2="249.85" stroke="#111" stroke-width="1.0"/>
<line x1="291.90" y1="246.19" x2="294.50" y2="246.19" stroke="#111" stroke-width="1.0"/>
<line x1="289.50" y1="242.53" x2="294.50" y2="242.53" stroke="#111" stroke-width="1.2"/>
<text x="287.30" y="244.72" font-size="8" text-anchor="end" font-weight="normal" fill="#222" >60</text>
<line x1="291.90" y1="238.86" x2="294.50" y2="238.86" stroke="#111" stroke-width="1.0"/>
<line x1="291.90" y1="235.20" x2="294.50" y2="235.20" stroke="#111" stroke-width="1.0"/>
<line x1="291.90" y1="231.54" x2="294.50" y2="231.54" stroke="#111" stroke-width="1.0"/>
<line x1="291.90" y1="227.88" x2="294.50" y2="227.88" stroke="#111" stroke-width="1.0"/>
<line x1="289.50" y1="224.21" x2="294.50" y2="224.21" stroke="#111" stroke-width="1.2"/>
<text x="287.30" y="226.41" font-size="8" text-anchor="end" font-weight="normal" fill="#222" >70</text>
<line x1="291.90" y1="220.55" x2="294.50" y2="220.55" stroke="#111" stroke-width="1.0"/>
<line x1="291.90" y1="216.89" x2="294.50" y2="216.89" stroke="#111" stroke-width="1.0"/>
<line x1="291.90" y1="213.22" x2="294.50" y2="213.22" stroke="#111" stroke-width="1.0"/>
<line x1="291.90" y1="209.56" x2="294.50" y2="209.56" stroke="#111" stroke-width="1.0"/>
<line x1="289.50" y1="205.90" x2="294.50" y2="205.90" stroke="#111" stroke-width="1.2"/>
<text x="287.30" y="208.10" font-size="8" text-anchor="end" font-weight="normal" fill="#222" >80</text>
<line x1="289.50" y1="205.90" x2="511.80" y2="205.90" stroke="#3a3a3a" stroke-width="1.5"/>
<line x1="511.20" y1="205.90" x2="511.20" y2="352.40" stroke="#1a1a1a" stroke-width="1.3"/>
<line x1="294.50" y1="205.40" x2="294.50" y2="352.40" stroke="#111" stroke-width="1.6"/>
<line x1="289.50" y1="352.40" x2="511.20" y2="352.40" stroke="#111" stroke-width="1.5"/>
<line x1="295.20" y1="352.40" x2="295.20" y2="356.20" stroke="#111" stroke-width="1.2"/>
<text x="295.50" y="365.30" font-size="7.8" text-anchor="end" fill="#222">10</text>
<text x="295.90" y="362.80" font-size="6" fill="#222">0</text>
<line x1="311.46" y1="352.40" x2="311.46" y2="354.40" stroke="#111" stroke-width="1.0"/>
<line x1="320.96" y1="352.40" x2="320.96" y2="354.40" stroke="#111" stroke-width="1.0"/>
<line x1="327.71" y1="352.40" x2="327.71" y2="354.40" stroke="#111" stroke-width="1.0"/>
<line x1="332.94" y1="352.40" x2="332.94" y2="354.40" stroke="#111" stroke-width="1.0"/>
<line x1="337.22" y1="352.40" x2="337.22" y2="354.40" stroke="#111" stroke-width="1.0"/>
<line x1="340.84" y1="352.40" x2="340.84" y2="354.40" stroke="#111" stroke-width="1.0"/>
<line x1="343.97" y1="352.40" x2="343.97" y2="354.40" stroke="#111" stroke-width="1.0"/>
<line x1="346.73" y1="352.40" x2="346.73" y2="354.40" stroke="#111" stroke-width="1.0"/>
<line x1="349.20" y1="352.40" x2="349.20" y2="356.20" stroke="#111" stroke-width="1.2"/>
<text x="349.50" y="365.30" font-size="7.8" text-anchor="end" fill="#222">10</text>
<text x="349.90" y="362.80" font-size="6" fill="#222">1</text>
<line x1="365.46" y1="352.40" x2="365.46" y2="354.40" stroke="#111" stroke-width="1.0"/>
<line x1="374.96" y1="352.40" x2="374.96" y2="354.40" stroke="#111" stroke-width="1.0"/>
<line x1="381.71" y1="352.40" x2="381.71" y2="354.40" stroke="#111" stroke-width="1.0"/>
<line x1="386.94" y1="352.40" x2="386.94" y2="354.40" stroke="#111" stroke-width="1.0"/>
<line x1="391.22" y1="352.40" x2="391.22" y2="354.40" stroke="#111" stroke-width="1.0"/>
<line x1="394.84" y1="352.40" x2="394.84" y2="354.40" stroke="#111" stroke-width="1.0"/>
<line x1="397.97" y1="352.40" x2="397.97" y2="354.40" stroke="#111" stroke-width="1.0"/>
<line x1="400.73" y1="352.40" x2="400.73" y2="354.40" stroke="#111" stroke-width="1.0"/>
<line x1="403.20" y1="352.40" x2="403.20" y2="356.20" stroke="#111" stroke-width="1.2"/>
<text x="403.50" y="365.30" font-size="7.8" text-anchor="end" fill="#222">10</text>
<text x="403.90" y="362.80" font-size="6" fill="#222">2</text>
<line x1="419.46" y1="352.40" x2="419.46" y2="354.40" stroke="#111" stroke-width="1.0"/>
<line x1="428.96" y1="352.40" x2="428.96" y2="354.40" stroke="#111" stroke-width="1.0"/>
<line x1="435.71" y1="352.40" x2="435.71" y2="354.40" stroke="#111" stroke-width="1.0"/>
<line x1="440.94" y1="352.40" x2="440.94" y2="354.40" stroke="#111" stroke-width="1.0"/>
<line x1="445.22" y1="352.40" x2="445.22" y2="354.40" stroke="#111" stroke-width="1.0"/>
<line x1="448.84" y1="352.40" x2="448.84" y2="354.40" stroke="#111" stroke-width="1.0"/>
<line x1="451.97" y1="352.40" x2="451.97" y2="354.40" stroke="#111" stroke-width="1.0"/>
<line x1="454.73" y1="352.40" x2="454.73" y2="354.40" stroke="#111" stroke-width="1.0"/>
<line x1="457.20" y1="352.40" x2="457.20" y2="356.20" stroke="#111" stroke-width="1.2"/>
<text x="457.50" y="365.30" font-size="7.8" text-anchor="end" fill="#222">10</text>
<text x="457.90" y="362.80" font-size="6" fill="#222">3</text>
<line x1="473.46" y1="352.40" x2="473.46" y2="354.40" stroke="#111" stroke-width="1.0"/>
<line x1="482.96" y1="352.40" x2="482.96" y2="354.40" stroke="#111" stroke-width="1.0"/>
<line x1="489.71" y1="352.40" x2="489.71" y2="354.40" stroke="#111" stroke-width="1.0"/>
<line x1="494.94" y1="352.40" x2="494.94" y2="354.40" stroke="#111" stroke-width="1.0"/>
<line x1="499.22" y1="352.40" x2="499.22" y2="354.40" stroke="#111" stroke-width="1.0"/>
<line x1="502.84" y1="352.40" x2="502.84" y2="354.40" stroke="#111" stroke-width="1.0"/>
<line x1="505.97" y1="352.40" x2="505.97" y2="354.40" stroke="#111" stroke-width="1.0"/>
<line x1="508.73" y1="352.40" x2="508.73" y2="354.40" stroke="#111" stroke-width="1.0"/>
<line x1="511.20" y1="352.40" x2="511.20" y2="356.20" stroke="#111" stroke-width="1.2"/>
<text x="511.50" y="365.30" font-size="7.8" text-anchor="end" fill="#222">10</text>
<text x="511.90" y="362.80" font-size="6" fill="#222">4</text>
<text transform="translate(274.80,280.15) rotate(-90)" font-size="9.4" text-anchor="middle" fill="#111">Counts</text>
<text x="401.00" y="376.70" font-size="9" text-anchor="middle" fill="#111">IgG complex</text>
<path d="M296.00,352.40 L296.00,352.00 L296.00,351.00 L296.00,351.00 L298.00,343.00 L300.00,340.00 L302.00,339.02 L304.00,339.00 L305.37,339.60 L306.73,337.54 L308.10,337.90 L309.47,338.04 L310.83,335.54 L312.20,335.90 L314.20,333.90 L316.20,334.17 L318.20,331.80 L319.57,329.98 L320.93,330.85 L322.30,328.80 L324.30,329.80 L325.80,327.35 L327.30,326.80 L328.80,324.30 L330.30,319.70 L332.40,322.80 L334.40,318.70 L335.90,316.28 L337.40,316.70 L338.70,312.40 L340.00,305.80 L341.50,314.80 L343.70,307.30 L345.20,296.90 L346.70,302.80 L349.00,292.40 L350.40,282.70 L352.70,281.90 L354.40,275.00 L355.65,271.34 L356.90,271.25 L358.75,270.00 L360.60,262.50 L362.50,265.00 L364.40,257.50 L366.25,248.75 L368.10,243.75 L370.00,250.00 L371.90,255.00 L373.10,247.50 L374.40,253.75 L375.60,261.25 L377.50,262.50 L378.75,270.45 L380.00,275.00 L381.25,276.25 L382.50,287.90 L384.00,298.40 L385.35,300.91 L386.70,307.70 L388.15,312.66 L389.60,314.50 L392.00,324.10 L393.25,326.52 L394.50,331.80 L396.90,334.70 L398.10,337.86 L399.30,338.60 L400.95,338.12 L402.60,338.60 L403.95,340.29 L405.30,340.50 L407.25,340.86 L409.20,343.20 L411.20,344.67 L413.20,344.50 L415.15,343.87 L417.10,343.80 L419.10,345.06 L421.10,345.80 L422.45,345.66 L423.80,346.40 L425.75,346.85 L427.70,346.90 L429.30,346.95 L430.90,347.75 L432.50,347.90 L434.40,347.88 L436.30,348.80 L437.93,349.61 L439.57,348.96 L441.20,349.80 L442.62,350.09 L444.05,349.67 L445.47,350.52 L446.90,350.30 L448.50,350.33 L450.10,351.02 L451.70,350.80 L453.30,350.56 L454.90,351.25 L456.50,351.25 L457.00,352.00 L457.00,352.40 Z" fill="#d5d5d5" stroke="none" stroke-width="0" stroke-linejoin="round"/>
<path d="M296.00,352.00 L296.00,351.00 L296.00,351.00 L298.00,343.00 L300.00,340.00 L302.00,339.02 L304.00,339.00 L305.37,339.60 L306.73,337.54 L308.10,337.90 L309.47,338.04 L310.83,335.54 L312.20,335.90 L314.20,333.90 L316.20,334.17 L318.20,331.80 L319.57,329.98 L320.93,330.85 L322.30,328.80 L324.30,329.80 L325.80,327.35 L327.30,326.80 L328.80,324.30 L330.30,319.70 L332.40,322.80 L334.40,318.70 L335.90,316.28 L337.40,316.70 L338.70,312.40 L340.00,305.80 L341.50,314.80 L343.70,307.30 L345.20,296.90 L346.70,302.80 L349.00,292.40 L350.40,282.70 L352.70,281.90 L354.40,275.00 L355.65,271.34 L356.90,271.25 L358.75,270.00 L360.60,262.50 L362.50,265.00 L364.40,257.50 L366.25,248.75 L368.10,243.75 L370.00,250.00 L371.90,255.00 L373.10,247.50 L374.40,253.75 L375.60,261.25 L377.50,262.50 L378.75,270.45 L380.00,275.00 L381.25,276.25 L382.50,287.90 L384.00,298.40 L385.35,300.91 L386.70,307.70 L388.15,312.66 L389.60,314.50 L392.00,324.10 L393.25,326.52 L394.50,331.80 L396.90,334.70 L398.10,337.86 L399.30,338.60 L400.95,338.12 L402.60,338.60 L403.95,340.29 L405.30,340.50 L407.25,340.86 L409.20,343.20 L411.20,344.67 L413.20,344.50 L415.15,343.87 L417.10,343.80 L419.10,345.06 L421.10,345.80 L422.45,345.66 L423.80,346.40 L425.75,346.85 L427.70,346.90 L429.30,346.95 L430.90,347.75 L432.50,347.90 L434.40,347.88 L436.30,348.80 L437.93,349.61 L439.57,348.96 L441.20,349.80 L442.62,350.09 L444.05,349.67 L445.47,350.52 L446.90,350.30 L448.50,350.33 L450.10,351.02 L451.70,350.80 L453.30,350.56 L454.90,351.25 L456.50,351.25 L457.00,352.00" fill="none" stroke="#5e5e5e" stroke-width="1.45" stroke-linejoin="round"/>
<path d="M297.00,350.00 L299.00,341.90 L300.55,339.60 L302.10,339.90 L303.60,342.14 L305.10,343.00 L306.60,341.19 L308.10,340.90 L310.15,342.25 L312.20,340.90 L314.20,339.20 L316.20,339.90 L317.70,341.35 L319.20,341.90 L320.75,339.64 L322.30,338.90 L323.80,338.83 L325.30,336.90 L327.30,338.90 L328.80,335.65 L330.30,333.90 L332.35,335.01 L334.40,334.90 L335.90,332.56 L337.40,331.80 L340.00,326.70 L342.20,323.70 L344.50,325.20 L345.20,332.70 L346.70,323.70 L349.00,320.70 L350.45,320.31 L351.90,316.30 L354.20,314.80 L356.40,313.30 L358.70,309.60 L360.90,307.30 L363.10,304.30 L364.60,299.90 L366.10,296.10 L367.60,290.90 L369.10,286.40 L370.60,281.90 L372.10,277.50 L373.75,276.25 L376.25,270.00 L378.10,262.50 L379.40,256.90 L380.60,258.75 L381.90,256.90 L383.10,258.75 L384.40,262.50 L385.60,267.50 L386.90,265.60 L388.75,270.00 L390.00,273.75 L391.90,278.75 L393.40,289.20 L394.70,294.50 L396.00,290.50 L396.70,299.70 L398.00,308.90 L400.70,314.20 L402.60,316.80 L403.90,319.50 L405.30,324.70 L407.20,329.30 L409.90,328.70 L411.80,331.30 L413.80,333.90 L415.80,337.90 L417.10,340.50 L419.10,336.60 L421.10,337.90 L423.00,339.90 L425.70,337.90 L427.60,341.80 L429.60,344.50 L431.25,343.60 L432.90,343.20 L435.50,344.50 L438.20,343.20 L439.70,345.08 L441.20,345.50 L443.60,345.00 L445.50,346.40 L447.40,347.40 L448.80,347.90 L450.80,346.90 L453.20,347.40 L455.60,348.80 L457.00,351.50" fill="none" stroke="#000" stroke-width="1.5" stroke-linejoin="round"/>
<text x="2.80" y="388.80" font-size="14" text-anchor="start" font-weight="bold" fill="#000" >E</text>
<line x1="28.20" y1="537.90" x2="30.90" y2="537.90" stroke="#111" stroke-width="1.2"/>
<text x="25.70" y="540.80" font-size="8" text-anchor="end" font-weight="normal" fill="#222" >0</text>
<line x1="28.20" y1="523.38" x2="30.90" y2="523.38" stroke="#111" stroke-width="1.2"/>
<text x="25.70" y="526.28" font-size="8" text-anchor="end" font-weight="normal" fill="#222" >10</text>
<line x1="28.20" y1="508.86" x2="30.90" y2="508.86" stroke="#111" stroke-width="1.2"/>
<text x="25.70" y="511.76" font-size="8" text-anchor="end" font-weight="normal" fill="#222" >20</text>
<line x1="28.20" y1="494.34" x2="30.90" y2="494.34" stroke="#111" stroke-width="1.2"/>
<text x="25.70" y="497.24" font-size="8" text-anchor="end" font-weight="normal" fill="#222" >30</text>
<line x1="28.20" y1="479.82" x2="30.90" y2="479.82" stroke="#111" stroke-width="1.2"/>
<text x="25.70" y="482.72" font-size="8" text-anchor="end" font-weight="normal" fill="#222" >40</text>
<line x1="28.20" y1="465.30" x2="30.90" y2="465.30" stroke="#111" stroke-width="1.2"/>
<text x="25.70" y="468.20" font-size="8" text-anchor="end" font-weight="normal" fill="#222" >50</text>
<line x1="28.20" y1="450.78" x2="30.90" y2="450.78" stroke="#111" stroke-width="1.2"/>
<text x="25.70" y="453.68" font-size="8" text-anchor="end" font-weight="normal" fill="#222" >60</text>
<line x1="28.20" y1="436.26" x2="30.90" y2="436.26" stroke="#111" stroke-width="1.2"/>
<text x="25.70" y="439.16" font-size="8" text-anchor="end" font-weight="normal" fill="#222" >70</text>
<line x1="28.20" y1="421.74" x2="30.90" y2="421.74" stroke="#111" stroke-width="1.2"/>
<text x="25.70" y="424.64" font-size="8" text-anchor="end" font-weight="normal" fill="#222" >80</text>
<line x1="28.20" y1="407.22" x2="30.90" y2="407.22" stroke="#111" stroke-width="1.2"/>
<text x="25.70" y="410.12" font-size="8" text-anchor="end" font-weight="normal" fill="#222" >90</text>
<line x1="28.20" y1="392.70" x2="30.90" y2="392.70" stroke="#111" stroke-width="1.2"/>
<text x="25.70" y="395.60" font-size="8" text-anchor="end" font-weight="normal" fill="#222" >100</text>
<line x1="30.90" y1="392.10" x2="30.90" y2="537.90" stroke="#111" stroke-width="1.3"/>
<line x1="28.20" y1="537.90" x2="255.60" y2="537.90" stroke="#111" stroke-width="1.4"/>
<text transform="translate(11.60,466.20) rotate(-90)" font-size="9.2" text-anchor="middle" fill="#111">AFC/10<tspan font-size="6.5" dy="-3">6</tspan><tspan dy="3"> Bone Marrow Cells</tspan></text>
<line x1="50.05" y1="423.10" x2="50.05" y2="444.40" stroke="#000" stroke-width="1.3"/>
<line x1="48.85" y1="423.30" x2="51.25" y2="423.30" stroke="#000" stroke-width="1.8"/>
<rect x="41.30" y="444.40" width="17.50" height="93.50" fill="#fff" stroke="#111" stroke-width="1.15"/>
<line x1="81.30" y1="460.40" x2="81.30" y2="468.40" stroke="#000" stroke-width="1.3"/>
<line x1="80.10" y1="460.60" x2="82.50" y2="460.60" stroke="#000" stroke-width="1.8"/>
<rect x="72.30" y="468.40" width="18.00" height="69.50" fill="#d0d0d0" stroke="#111" stroke-width="1.15"/>
<line x1="113.00" y1="406.90" x2="113.00" y2="436.80" stroke="#000" stroke-width="1.3"/>
<line x1="111.80" y1="407.10" x2="114.20" y2="407.10" stroke="#000" stroke-width="1.8"/>
<rect x="104.40" y="436.80" width="17.20" height="101.10" fill="#d0d0d0" stroke="#111" stroke-width="1.15"/>
<line x1="144.35" y1="414.40" x2="144.35" y2="431.60" stroke="#000" stroke-width="1.3"/>
<line x1="143.15" y1="414.60" x2="145.55" y2="414.60" stroke="#000" stroke-width="1.8"/>
<rect x="135.70" y="431.60" width="17.30" height="106.30" fill="#d0d0d0" stroke="#111" stroke-width="1.15"/>
<line x1="175.75" y1="503.80" x2="175.75" y2="510.00" stroke="#000" stroke-width="1.3"/>
<line x1="174.55" y1="504.00" x2="176.95" y2="504.00" stroke="#000" stroke-width="1.8"/>
<rect x="167.10" y="510.00" width="17.30" height="27.90" fill="#000" stroke="#111" stroke-width="1.15"/>
<line x1="207.00" y1="479.80" x2="207.00" y2="494.40" stroke="#000" stroke-width="1.3"/>
<line x1="205.80" y1="480.00" x2="208.20" y2="480.00" stroke="#000" stroke-width="1.8"/>
<rect x="198.30" y="494.40" width="17.40" height="43.50" fill="#000" stroke="#111" stroke-width="1.15"/>
<line x1="238.65" y1="481.10" x2="238.65" y2="489.40" stroke="#000" stroke-width="1.3"/>
<line x1="237.45" y1="481.30" x2="239.85" y2="481.30" stroke="#000" stroke-width="1.8"/>
<rect x="229.80" y="489.40" width="17.70" height="48.50" fill="#000" stroke="#111" stroke-width="1.15"/>
<path d="M175.10,491.95 L175.85,493.96 L178.00,494.06 L176.32,495.40 L176.89,497.47 L175.10,496.28 L173.31,497.47 L173.88,495.40 L172.20,494.06 L174.35,493.96 Z" fill="#000" stroke="#000" stroke-width="0.4" stroke-linejoin="round"/>
<path d="M206.60,467.65 L207.35,469.66 L209.50,469.76 L207.82,471.10 L208.39,473.17 L206.60,471.98 L204.81,473.17 L205.38,471.10 L203.70,469.76 L205.85,469.66 Z" fill="#000" stroke="#000" stroke-width="0.4" stroke-linejoin="round"/>
<path d="M234.70,469.55 L235.45,471.56 L237.60,471.66 L235.92,473.00 L236.49,475.07 L234.70,473.88 L232.91,475.07 L233.48,473.00 L231.80,471.66 L233.95,471.56 Z" fill="#000" stroke="#000" stroke-width="0.4" stroke-linejoin="round"/>
<path d="M241.30,469.55 L242.05,471.56 L244.20,471.66 L242.52,473.00 L243.09,475.07 L241.30,473.88 L239.51,475.07 L240.08,473.00 L238.40,471.66 L240.55,471.56 Z" fill="#000" stroke="#000" stroke-width="0.4" stroke-linejoin="round"/>
<text x="29.70" y="550.20" font-size="9.4" text-anchor="end" font-weight="normal" fill="#111" >K29</text>
<text x="29.70" y="561.40" font-size="9.4" text-anchor="end" font-weight="normal" fill="#111" >K83</text>
<rect x="48.15" y="546.70" width="3.80" height="2.00" fill="#000"/>
<rect x="48.15" y="558.20" width="3.80" height="2.00" fill="#000"/>
<text x="81.30" y="550.80" font-size="9.4" text-anchor="middle" font-weight="normal" fill="#111" >2NT</text>
<rect x="79.40" y="558.20" width="3.80" height="2.00" fill="#000"/>
<text x="113.00" y="550.80" font-size="9.4" text-anchor="middle" font-weight="normal" fill="#111" >1NT</text>
<rect x="111.10" y="558.20" width="3.80" height="2.00" fill="#000"/>
<text x="144.35" y="550.80" font-size="9.4" text-anchor="middle" font-weight="normal" fill="#111" >0.5NT</text>
<rect x="142.45" y="558.20" width="3.80" height="2.00" fill="#000"/>
<rect x="173.85" y="546.70" width="3.80" height="2.00" fill="#000"/>
<text x="175.75" y="561.60" font-size="9.4" text-anchor="middle" font-weight="normal" fill="#111" >2NT</text>
<rect x="205.10" y="546.70" width="3.80" height="2.00" fill="#000"/>
<text x="207.00" y="561.60" font-size="9.4" text-anchor="middle" font-weight="normal" fill="#111" >1NT</text>
<rect x="236.75" y="546.70" width="3.80" height="2.00" fill="#000"/>
<text x="238.65" y="561.60" font-size="9.4" text-anchor="middle" font-weight="normal" fill="#111" >0.5NT</text>
<text x="264.80" y="388.80" font-size="14" text-anchor="start" font-weight="bold" fill="#000" >F</text>
<line x1="291.90" y1="538.30" x2="294.60" y2="538.30" stroke="#111" stroke-width="1.2"/>
<text x="288.50" y="541.20" font-size="8" text-anchor="end" font-weight="normal" fill="#222" >0</text>
<line x1="291.90" y1="523.80" x2="294.60" y2="523.80" stroke="#111" stroke-width="1.2"/>
<text x="288.50" y="526.70" font-size="8" text-anchor="end" font-weight="normal" fill="#222" >10</text>
<line x1="291.90" y1="509.30" x2="294.60" y2="509.30" stroke="#111" stroke-width="1.2"/>
<text x="288.50" y="512.20" font-size="8" text-anchor="end" font-weight="normal" fill="#222" >20</text>
<line x1="291.90" y1="494.80" x2="294.60" y2="494.80" stroke="#111" stroke-width="1.2"/>
<text x="288.50" y="497.70" font-size="8" text-anchor="end" font-weight="normal" fill="#222" >30</text>
<line x1="291.90" y1="480.30" x2="294.60" y2="480.30" stroke="#111" stroke-width="1.2"/>
<text x="288.50" y="483.20" font-size="8" text-anchor="end" font-weight="normal" fill="#222" >40</text>
<line x1="291.90" y1="465.80" x2="294.60" y2="465.80" stroke="#111" stroke-width="1.2"/>
<text x="288.50" y="468.70" font-size="8" text-anchor="end" font-weight="normal" fill="#222" >50</text>
<line x1="291.90" y1="451.30" x2="294.60" y2="451.30" stroke="#111" stroke-width="1.2"/>
<text x="288.50" y="454.20" font-size="8" text-anchor="end" font-weight="normal" fill="#222" >60</text>
<line x1="291.90" y1="436.80" x2="294.60" y2="436.80" stroke="#111" stroke-width="1.2"/>
<text x="288.50" y="439.70" font-size="8" text-anchor="end" font-weight="normal" fill="#222" >70</text>
<line x1="291.90" y1="422.30" x2="294.60" y2="422.30" stroke="#111" stroke-width="1.2"/>
<text x="288.50" y="425.20" font-size="8" text-anchor="end" font-weight="normal" fill="#222" >80</text>
<line x1="291.90" y1="407.80" x2="294.60" y2="407.80" stroke="#111" stroke-width="1.2"/>
<text x="288.50" y="410.70" font-size="8" text-anchor="end" font-weight="normal" fill="#222" >90</text>
<line x1="291.90" y1="393.30" x2="294.60" y2="393.30" stroke="#111" stroke-width="1.2"/>
<text x="288.50" y="396.20" font-size="8" text-anchor="end" font-weight="normal" fill="#222" >100</text>
<line x1="294.60" y1="392.70" x2="294.60" y2="538.30" stroke="#111" stroke-width="1.3"/>
<line x1="291.90" y1="538.30" x2="520.50" y2="538.30" stroke="#111" stroke-width="1.4"/>
<text transform="translate(275.60,466.70) rotate(-90)" font-size="9.2" text-anchor="middle" fill="#111">AFC/10<tspan font-size="6.5" dy="-3">6</tspan><tspan dy="3"> Bone Marrow Cells</tspan></text>
<line x1="315.25" y1="420.30" x2="315.25" y2="426.50" stroke="#000" stroke-width="1.3"/>
<line x1="314.05" y1="420.50" x2="316.45" y2="420.50" stroke="#000" stroke-width="1.8"/>
<rect x="305.60" y="426.50" width="19.30" height="111.80" fill="#fff" stroke="#111" stroke-width="1.15"/>
<line x1="352.70" y1="481.60" x2="352.70" y2="490.60" stroke="#000" stroke-width="1.3"/>
<line x1="351.50" y1="481.80" x2="353.90" y2="481.80" stroke="#000" stroke-width="1.8"/>
<rect x="343.00" y="490.60" width="19.40" height="47.70" fill="#8e8e8e" stroke="#111" stroke-width="1.15"/>
<line x1="389.70" y1="481.00" x2="389.70" y2="487.50" stroke="#000" stroke-width="1.3"/>
<line x1="388.50" y1="481.20" x2="390.90" y2="481.20" stroke="#000" stroke-width="1.8"/>
<rect x="380.10" y="487.50" width="19.20" height="50.80" fill="#8e8e8e" stroke="#111" stroke-width="1.15"/>
<line x1="426.70" y1="470.30" x2="426.70" y2="484.80" stroke="#000" stroke-width="1.3"/>
<line x1="425.50" y1="470.50" x2="427.90" y2="470.50" stroke="#000" stroke-width="1.8"/>
<rect x="417.00" y="484.80" width="19.40" height="53.50" fill="#8e8e8e" stroke="#111" stroke-width="1.15"/>
<line x1="463.80" y1="474.40" x2="463.80" y2="483.50" stroke="#000" stroke-width="1.3"/>
<line x1="462.60" y1="474.60" x2="465.00" y2="474.60" stroke="#000" stroke-width="1.8"/>
<rect x="454.20" y="483.50" width="19.20" height="54.80" fill="#8e8e8e" stroke="#111" stroke-width="1.15"/>
<line x1="500.80" y1="465.30" x2="500.80" y2="486.60" stroke="#000" stroke-width="1.3"/>
<line x1="499.60" y1="465.50" x2="502.00" y2="465.50" stroke="#000" stroke-width="1.8"/>
<rect x="491.20" y="486.60" width="19.20" height="51.70" fill="#8e8e8e" stroke="#111" stroke-width="1.15"/>
<text x="293.70" y="550.90" font-size="9.6" text-anchor="end" font-weight="normal" fill="#111" >K29</text>
<text x="293.70" y="562.10" font-size="9.6" text-anchor="end" font-weight="normal" fill="#111" >K83</text>
<rect x="313.55" y="547.40" width="3.40" height="1.80" fill="#000"/>
<rect x="313.55" y="559.10" width="3.40" height="1.80" fill="#000"/>
<rect x="351.00" y="547.40" width="3.40" height="1.80" fill="#000"/>
<text x="352.70" y="562.50" font-size="9.4" text-anchor="middle" font-weight="normal" fill="#111" >0.5NT</text>
<text x="389.70" y="550.90" font-size="9.4" text-anchor="middle" font-weight="normal" fill="#111" >0.25NT</text>
<text x="389.70" y="562.50" font-size="9.4" text-anchor="middle" font-weight="normal" fill="#111" >0.5NT</text>
<text x="426.70" y="550.90" font-size="9.4" text-anchor="middle" font-weight="normal" fill="#111" >0.5NT</text>
<text x="426.70" y="562.50" font-size="9.4" text-anchor="middle" font-weight="normal" fill="#111" >0.5NT</text>
<text x="463.80" y="550.90" font-size="9.4" text-anchor="middle" font-weight="normal" fill="#111" >1NT</text>
<text x="463.80" y="562.50" font-size="9.4" text-anchor="middle" font-weight="normal" fill="#111" >0.5NT</text>
<text x="500.80" y="550.90" font-size="9.4" text-anchor="middle" font-weight="normal" fill="#111" >2NT</text>
<text x="500.80" y="562.50" font-size="9.4" text-anchor="middle" font-weight="normal" fill="#111" >0.5NT</text>
</svg>
</body></html>
